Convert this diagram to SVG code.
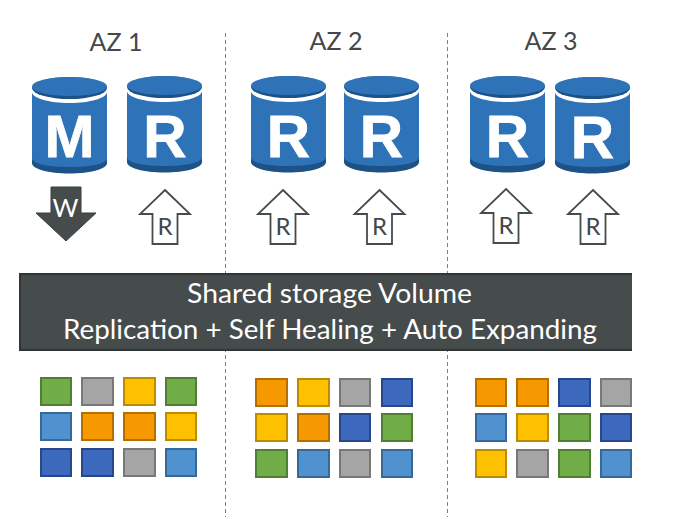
<svg xmlns="http://www.w3.org/2000/svg" width="683" height="528" viewBox="0 0 683 528">
<style>
text{font-family:"Lato","Open Sans","Liberation Sans",sans-serif}
.az{font-size:25px;fill:#44484a;text-anchor:middle}
.db{font-family:"Liberation Sans",sans-serif;font-weight:700;font-size:60px;fill:#fff;stroke:#fff;stroke-width:.8;text-anchor:middle}
.bar{font-size:26px;fill:#fff;text-anchor:middle}
.ar{fill:#fff;stroke:#464b4b;stroke-width:1.8}
.lb{font-size:24px;fill:#44484a;text-anchor:middle}
.g{fill:#70ad47;stroke:#507e32}.x{fill:#a5a5a5;stroke:#787878}.y{fill:#ffc000;stroke:#bc8c00}
.l{fill:#5091d0;stroke:#35689b}.o{fill:#f69800;stroke:#b46f00}.b{fill:#3c69bd;stroke:#27478a}
rect.g,rect.x,rect.y,rect.l,rect.o,rect.b{stroke-width:2}
</style>
<defs>
<g id="cyl">
<path d="M0 15C0 21 17 26 37.500 26S75 21 75 15V85C75 92 58 96 37.500 96S0 92 0 85Z" fill="#2e73b8"/>
<path d="M0 81C0 87 17 90 37.500 90S75 87 75 81V86C75 92 58 96.500 37.500 96.500S0 92 0 86Z" fill="#1c5285"/>
<ellipse cx="37.500" cy="11" rx="37.500" ry="11" fill="#1c5285"/>
<ellipse cx="37.500" cy="9.500" rx="37.500" ry="9.500" fill="#2e73b8"/>
</g>
<path id="up" d="M0 0L25 24H12.500V54H-12.500V24H-25Z"/>
</defs>
<g id="connectors">
<path d="M225.500 33V517M447.500 33V517" fill="none" stroke="#808080" stroke-width="1" stroke-dasharray="4 3"/>
</g>
<g id="labels">
<text class="az" x="116" y="51">AZ 1</text>
<text class="az" x="336" y="50">AZ 2</text>
<text class="az" x="551" y="50">AZ 3</text>
</g>
<g id="db-m1"><use href="#cyl" x="32" y="77"/><text class="db" x="69.500" y="157">M</text></g>
<g id="db-r1"><use href="#cyl" x="127" y="76"/><text class="db" x="165" y="157">R</text></g>
<g id="db-r2"><use href="#cyl" x="251" y="76"/><text class="db" x="288.500" y="157">R</text></g>
<g id="db-r3"><use href="#cyl" x="344" y="76"/><text class="db" x="381.500" y="157">R</text></g>
<g id="db-r4"><use href="#cyl" x="470" y="76"/><text class="db" x="507.500" y="157">R</text></g>
<g id="db-r5"><use href="#cyl" x="555" y="77"/><text class="db" x="592.500" y="158">R</text></g>
<g id="arrow-w"><path d="M51 187H81V213H96L66 241L36 213H51Z" fill="#464b4b" stroke="#3a3f3f" stroke-width="1"/><text x="65.500" y="217" font-size="25" fill="#fff" text-anchor="middle">W</text></g>
<g id="arrow-r1"><use href="#up" class="ar" x="165" y="190"/><text class="lb" x="165" y="235">R</text></g>
<g id="arrow-r2"><use href="#up" class="ar" x="283" y="190"/><text class="lb" x="283" y="235">R</text></g>
<g id="arrow-r3"><use href="#up" class="ar" x="379.500" y="190"/><text class="lb" x="379.500" y="235">R</text></g>
<g id="arrow-r4"><use href="#up" class="ar" x="506" y="189"/><text class="lb" x="506" y="234">R</text></g>
<g id="arrow-r5"><use href="#up" class="ar" x="593" y="190"/><text class="lb" x="593" y="235">R</text></g>
<g id="volume">
<path d="M632 274H20V350H632Z" fill="#464b4b"/>
<path d="M632 274H20V350H632" fill="none" stroke="#303535" stroke-width="2"/>
<text class="bar" x="329.500" y="303" textLength="285" lengthAdjust="spacingAndGlyphs">Shared storage Volume</text>
<text class="bar" x="330" y="339" textLength="534" lengthAdjust="spacingAndGlyphs">Replication + Self Healing + Auto Expanding</text>
</g>
<g id="blocks-1">
<rect class="g" x="41" y="378" width="30" height="27"/><rect class="x" x="82" y="378" width="31" height="27"/><rect class="y" x="124" y="378" width="31" height="27"/><rect class="g" x="166" y="378" width="30" height="27"/>
<rect class="l" x="41" y="413" width="30" height="27"/><rect class="o" x="82" y="413" width="31" height="27"/><rect class="o" x="124" y="413" width="31" height="27"/><rect class="y" x="166" y="413" width="30" height="27"/>
<rect class="b" x="41" y="449" width="30" height="27"/><rect class="b" x="82" y="449" width="31" height="27"/><rect class="x" x="124" y="449" width="31" height="27"/><rect class="l" x="166" y="449" width="30" height="27"/>
</g>
<g id="blocks-2">
<rect class="o" x="256" y="379" width="31" height="27"/><rect class="y" x="298" y="379" width="31" height="27"/><rect class="x" x="340" y="379" width="30" height="27"/><rect class="b" x="382" y="379" width="30" height="27"/>
<rect class="y" x="256" y="414" width="31" height="27"/><rect class="o" x="298" y="414" width="31" height="27"/><rect class="b" x="340" y="414" width="30" height="27"/><rect class="g" x="382" y="414" width="30" height="27"/>
<rect class="g" x="256" y="450" width="31" height="27"/><rect class="l" x="298" y="450" width="31" height="27"/><rect class="x" x="340" y="450" width="30" height="27"/><rect class="l" x="382" y="450" width="30" height="27"/>
</g>
<g id="blocks-3">
<rect class="o" x="476" y="379" width="30" height="27"/><rect class="o" x="517" y="379" width="31" height="27"/><rect class="b" x="559" y="379" width="31" height="27"/><rect class="x" x="601" y="379" width="30" height="27"/>
<rect class="l" x="476" y="414" width="30" height="27"/><rect class="y" x="517" y="414" width="31" height="27"/><rect class="g" x="559" y="414" width="31" height="27"/><rect class="b" x="601" y="414" width="30" height="27"/>
<rect class="y" x="476" y="450" width="30" height="27"/><rect class="x" x="517" y="450" width="31" height="27"/><rect class="g" x="559" y="450" width="31" height="27"/><rect class="l" x="601" y="450" width="30" height="27"/>
</g>
</svg>
